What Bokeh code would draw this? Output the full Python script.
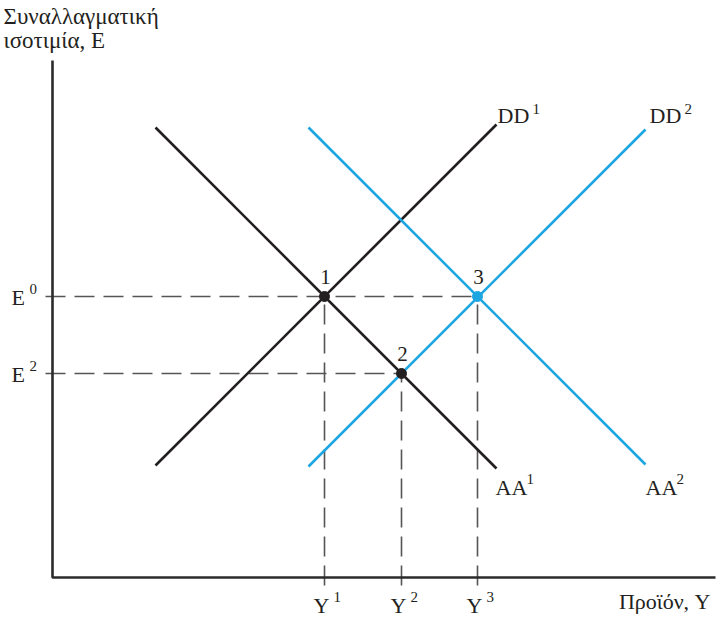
from bokeh.plotting import figure
from bokeh.models import Range1d
from bokeh.core.properties import value
from bokeh.embed import file_html
from bokeh.resources import INLINE

# Equilibrium output levels (horizontal) and exchange rates (vertical)
Y1, Y2, Y3 = 272, 349, 425
E0, E2 = 281, 204

# Schedule end points
dd1_x = [103, 444]
dd1_y = [112, 453]
aa1_x = [103, 444]
aa1_y = [450, 109]
dd2_x = [256, 593]
dd2_y = [111, 448]
aa2_x = [256, 593]
aa2_y = [450, 113]

# Equilibria
eq_x = [Y1, Y2, Y3]
eq_y = [E0, E2, E0]
eq_labels = ["1", "2", "3"]

# Axis extents
x_axis_end = 663
y_axis_end = 517

BLACK = "#231f20"
BLUE = "#1ba6e1"
DASH = "#555555"
FONT = value("Liberation Serif")
RAISE = -7  # lift text so the glyph baseline sits where intended

p = figure(width=722, height=618, output_backend="svg", toolbar_location=None,
           x_range=Range1d(-52, 670), y_range=Range1d(-41, 577),
           x_axis_location=None, y_axis_location=None, min_border=0)
p.grid.visible = False
p.outline_line_color = None
p.background_fill_color = "white"

# dashed guides from each equilibrium to the axes
p.segment(x0=[-7, -7], y0=[E0, E2], x1=[Y3, Y2], y1=[E0, E2],
          line_color=DASH, line_width=1.6, line_dash="20 9")
p.segment(x0=eq_x, y0=[-8, -8, -8], x1=eq_x, y1=eq_y,
          line_color=DASH, line_width=1.6, line_dash="20 9")

# axes
p.line([0, 0, x_axis_end], [y_axis_end, 0, 0], line_color="#2b2b2b", line_width=2.6)

# schedules
p.line(dd1_x, dd1_y, line_color=BLACK, line_width=2.6)
p.line(aa1_x, aa1_y, line_color=BLACK, line_width=2.6)
p.line(dd2_x, dd2_y, line_color=BLUE, line_width=2.6)
p.line(aa2_x, aa2_y, line_color=BLUE, line_width=2.6)

# equilibrium points
p.scatter(eq_x[:2], eq_y[:2], size=10, color=BLACK)
p.scatter(eq_x[2:], eq_y[2:], size=10, color=BLUE)


def label(x, y, txt, size, dx=0, dy=0, align="left"):
    p.text(x=[x], y=[y], text=[txt], x_offset=dx, y_offset=dy + RAISE,
           text_font=FONT, text_font_size=f"{size}px", text_color=BLACK,
           text_align=align, text_baseline="alphabetic")


# equilibrium numbers
for ex, ey, t in zip(eq_x, eq_y, eq_labels):
    label(ex, ey, t, 21, dx=1, dy=-13, align="center")

# vertical axis labels
label(0, E0, "E", 22, dx=-41, dy=8)
label(0, E0, "0", 15, dx=-23, dy=-1)
label(0, E2, "E", 22, dx=-41, dy=8)
label(0, E2, "2", 15, dx=-23, dy=-1)

# horizontal axis labels
for yx, sup in zip(eq_x, ["1", "2", "3"]):
    label(yx, 0, "Y", 22, dx=-11, dy=35)
    label(yx, 0, sup, 15, dx=9, dy=26)

# schedule names
label(dd1_x[1], dd1_y[1], "DD", 22, dx=1, dy=-2)
label(dd1_x[1], dd1_y[1], "1", 15, dx=36, dy=-9)
label(dd2_x[1], dd2_y[1], "DD", 22, dx=4, dy=-7)
label(dd2_x[1], dd2_y[1], "2", 15, dx=39, dy=-14)
label(aa1_x[1], aa1_y[1], "AA", 22, dx=-1, dy=26)
label(aa1_x[1], aa1_y[1], "1", 15, dx=30, dy=17)
label(aa2_x[1], aa2_y[1], "AA", 22, dx=0, dy=30)
label(aa2_x[1], aa2_y[1], "2", 15, dx=31, dy=21)

# axis titles
label(0, y_axis_end, "Συναλλαγματική", 23, dx=-49, dy=-37)
label(0, y_axis_end, "ισοτιμία, E", 23, dx=-49, dy=-13)
label(x_axis_end, 0, "Προϊόν, Y", 22, dx=-5, dy=31, align="right")

open("out.html", "w").write(file_html(p, INLINE))
